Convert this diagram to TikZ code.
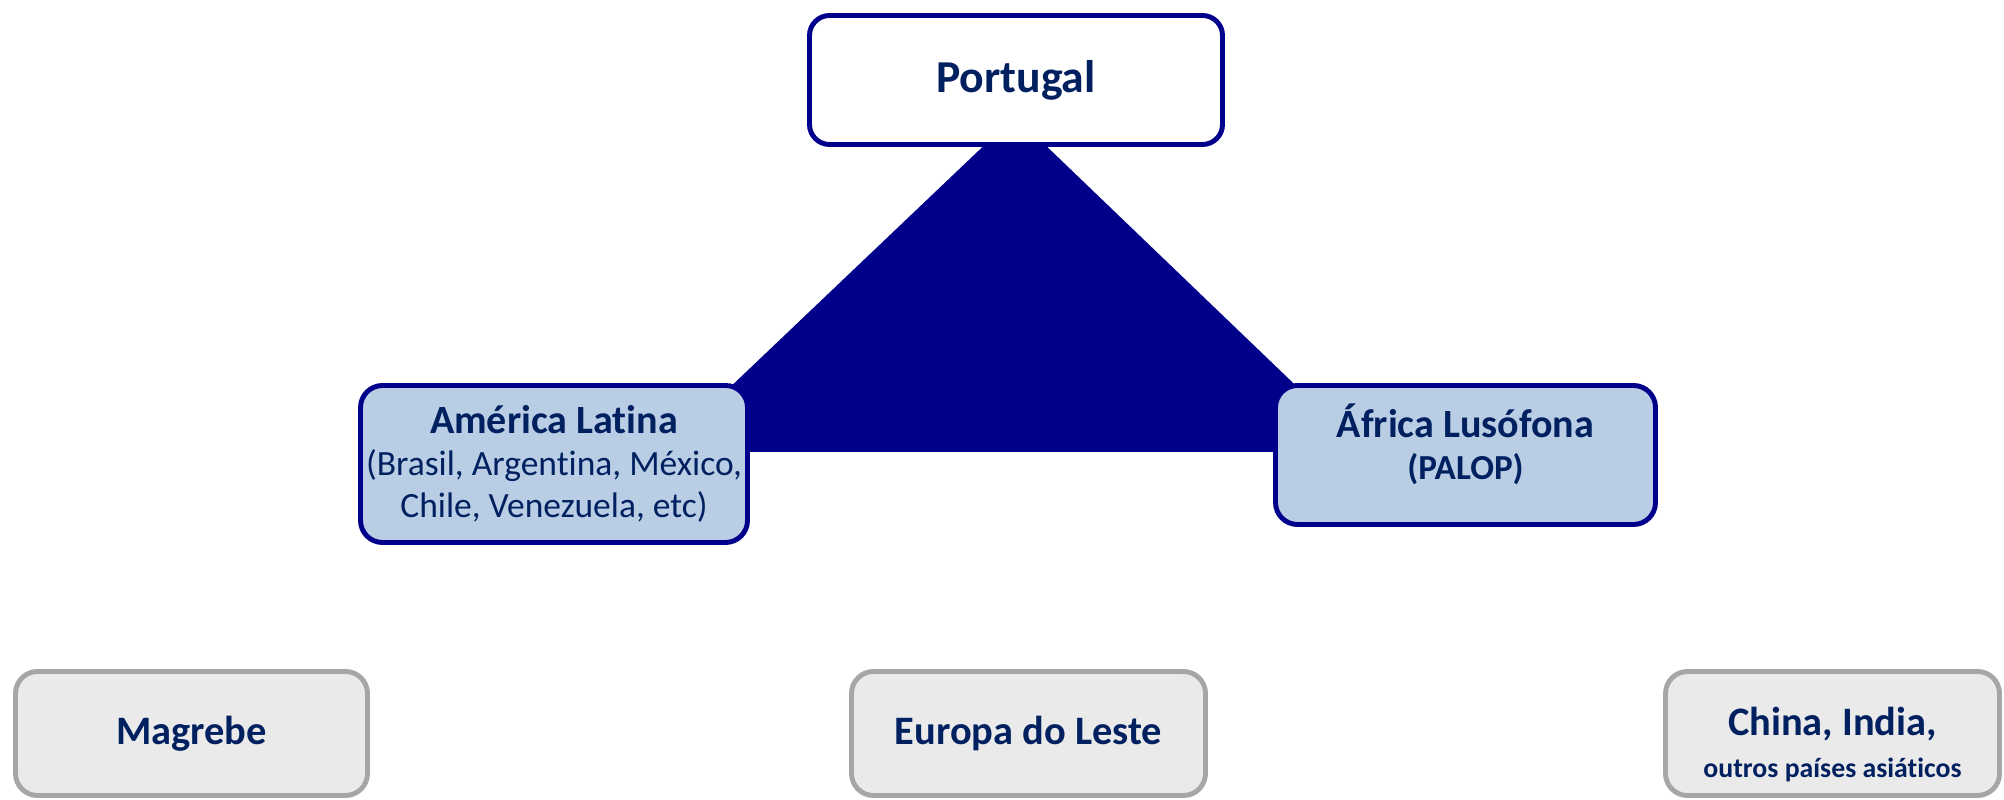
\documentclass[tikz,border=0pt]{standalone}
\usepackage{fontspec}
\setmainfont[Ligatures=NoCommon]{Carlito}
\definecolor{navyline}{RGB}{0,0,139}
\definecolor{textblue}{RGB}{0,32,96}
\definecolor{lightblue}{RGB}{185,205,229}
\definecolor{boxgray}{RGB}{234,234,234}
\definecolor{linegray}{RGB}{166,166,166}

\begin{document}
\begin{tikzpicture}[
  mainbox/.style={draw=navyline, fill=white, line width=1.4pt, rounded corners=0.2cm, text=textblue, align=center},
  polebox/.style={draw=navyline, fill=lightblue, line width=1.4pt, rounded corners=0.22cm, text=textblue, align=center, inner sep=1pt},
  otherbox/.style={draw=linegray, fill=boxgray, line width=1.4pt, rounded corners=0.22cm, text=textblue, align=center, inner sep=1pt}
]
\useasboundingbox (0,0) rectangle (20.04,8);

% Corners of the triangle (hidden behind the boxes)
\coordinate (apex) at (10.15,6.84);
\coordinate (baseL) at (6.62,3.48);
\coordinate (baseR) at (13.65,3.48);
\fill[navyline] (baseL) -- (apex) -- (baseR) -- cycle;

% Three poles
\node[mainbox, minimum width=4.13cm, minimum height=1.29cm] (portugal) at (10.16,7.20)
  {\fontsize{13}{15}\bfseries Portugal};
\node[polebox, minimum width=3.87cm, minimum height=1.57cm] (america) at (5.54,3.36)
  {\fontsize{11.4}{13}\bfseries Am\'erica Latina\\[0pt]
   \fontsize{10.1}{10.8}\selectfont (Brasil, Argentina, M\'exico,\\
   \fontsize{10.1}{10.8}\selectfont Chile, Venezuela, etc)};
\node[polebox, minimum width=3.80cm, minimum height=1.39cm] (africa) at (14.655,3.45)
  {\fontsize{11.4}{13}\bfseries \'Africa Lus\'ofona\\
   \fontsize{10}{12.5}\bfseries (PALOP)\rule[-0.26cm]{0pt}{0pt}};

% Other regions
\node[otherbox, minimum width=3.52cm, minimum height=1.24cm] (magrebe) at (1.915,0.665)
  {\fontsize{11.5}{13}\bfseries Magrebe};
\node[otherbox, minimum width=3.54cm, minimum height=1.24cm] (leste) at (10.285,0.665)
  {\fontsize{11.5}{13}\bfseries Europa do Leste};
\node[otherbox, minimum width=3.34cm, minimum height=1.24cm] (asia) at (18.325,0.665)
  {\fontsize{11.5}{13}\bfseries\rule{0pt}{0.5cm}China, India,\\
   \fontsize{7.9}{10.2}\bfseries outros pa\'ises asi\'aticos};

\end{tikzpicture}
\end{document}
